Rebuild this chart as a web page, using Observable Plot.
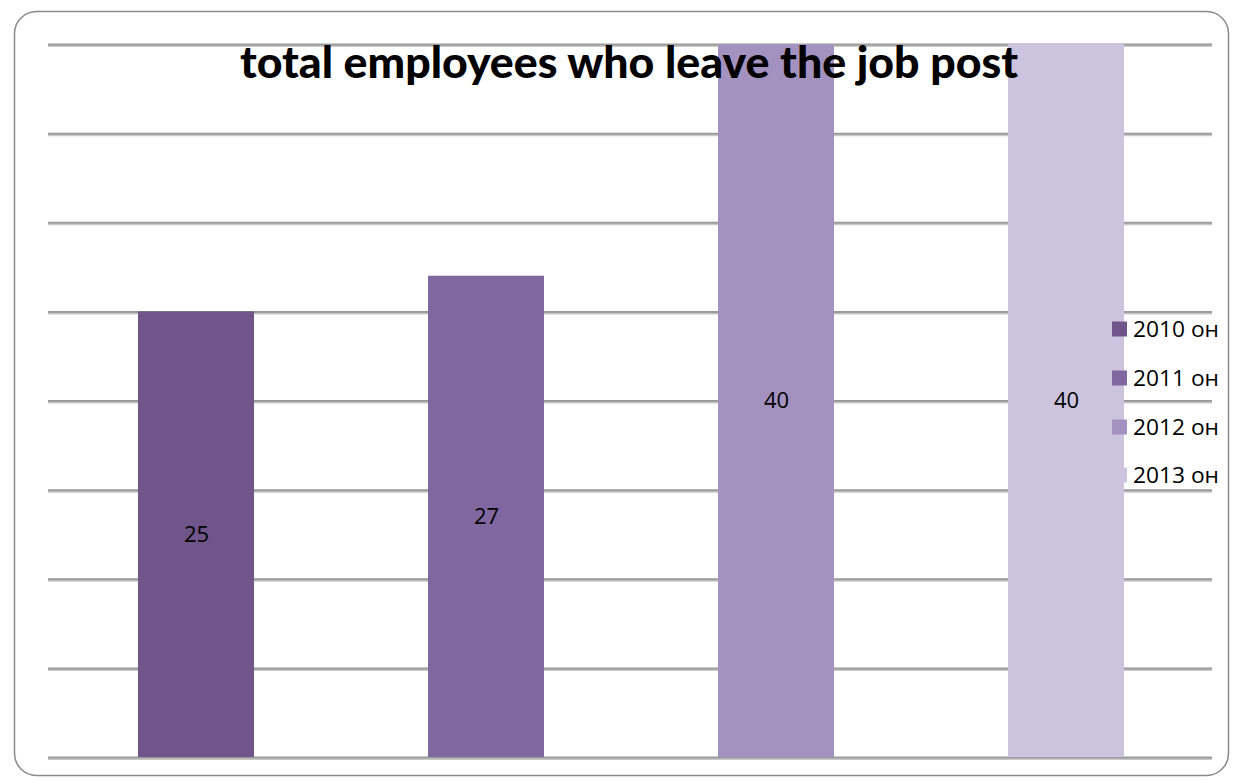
<!DOCTYPE html>
<html>
<head>
<meta charset="utf-8">
<script src="https://cdn.jsdelivr.net/npm/d3@7"></script>
<script src="https://cdn.jsdelivr.net/npm/@observablehq/plot@0.6"></script>
<style>
  html, body { margin: 0; padding: 0; background: #fff; }
  #wrap { position: relative; width: 1238px; height: 784px; }
  #wrap > svg { position: absolute; left: 0; top: 0; }
  #overlay { pointer-events: none; }
</style>
</head>
<body>
<div id="wrap"></div>
<script>
const title = "total employees who leave the job post";
const years = ["2010 он", "2011 он", "2012 он", "2013 он"];
const values = [25, 27, 40, 40];
const colors = ["#6f5589", "#8067a0", "#a391bf", "#ccc4de"];
const yTicks = [0, 5, 10, 15, 20, 25, 30, 35, 40];

const data = years.map((y, i) => ({year: y, value: values[i]}));

const W = 1238, H = 784;
const chart = Plot.plot({
  width: W,
  height: H,
  marginLeft: 48,
  marginRight: 26,
  marginTop: 44,
  marginBottom: 27,
  style: {fontFamily: "'Open Sans', sans-serif", background: "transparent"},
  x: {domain: years, range: [50.5, 1211.5], paddingInner: 0.6, paddingOuter: 0.3, axis: null},
  y: {domain: [0, 40], axis: null},
  color: {domain: years, range: colors},
  marks: [
    Plot.ruleY(yTicks, {stroke: "#c8c8c8", strokeWidth: 2, dy: 1.5}),
    Plot.ruleY(yTicks, {stroke: "#9a9a9a", strokeWidth: 2}),
    Plot.barY(data, {x: "year", y: "value", fill: "year"}),
    Plot.text(data, {x: "year", y: d => d.value / 2, text: d => String(d.value), fontSize: 22, fill: "#000"})
  ]
});

const wrap = document.getElementById("wrap");
wrap.appendChild(chart);

// overlay: border, title, legend
const ns = "http://www.w3.org/2000/svg";
const ov = d3.select(wrap).append("svg")
  .attr("id", "overlay")
  .attr("xmlns", ns)
  .attr("width", W).attr("height", H);

ov.append("rect")
  .attr("x", 14.5).attr("y", 11.5)
  .attr("width", 1214).attr("height", 764)
  .attr("rx", 22).attr("ry", 22)
  .attr("fill", "none").attr("stroke", "#8a8a8a").attr("stroke-width", 1.5);

ov.append("text")
  .attr("x", 629).attr("y", 78)
  .attr("text-anchor", "middle")
  .attr("font-family", "Lato, 'Open Sans', sans-serif")
  .attr("font-weight", "900")
  .attr("font-size", 43)
  .attr("textLength", 778)
  .attr("lengthAdjust", "spacingAndGlyphs")
  .attr("fill", "#000")
  .text(title);

const legendY = [329, 378, 427, 475];
const lg = ov.append("g");
years.forEach((y, i) => {
  lg.append("rect")
    .attr("x", 1112).attr("y", legendY[i] - 7.5)
    .attr("width", 15).attr("height", 15)
    .attr("fill", colors[i]);
  lg.append("text")
    .attr("x", 1133).attr("y", legendY[i])
    .attr("dy", "0.36em")
    .attr("font-family", "'Open Sans', sans-serif")
    .attr("font-size", 21)
    .attr("textLength", 86)
    .attr("lengthAdjust", "spacingAndGlyphs")
    .attr("fill", "#000")
    .text(y);
});
</script>
</body>
</html>
